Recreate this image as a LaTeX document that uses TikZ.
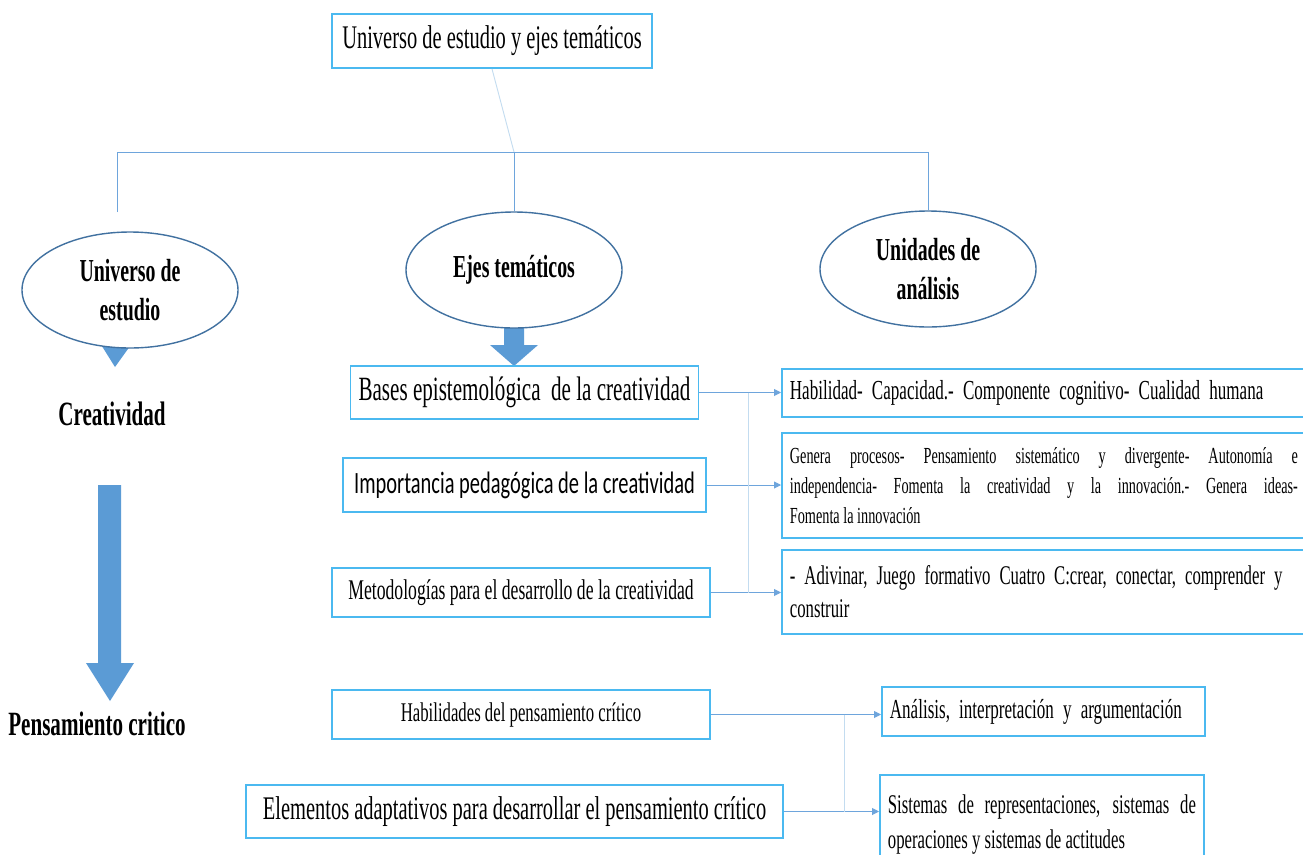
\documentclass[tikz,border=0pt]{standalone}
\usepackage{fontspec}
\setmainfont{Liberation Serif}[FakeStretch=0.62]
\newfontfamily\calibfont{Carlito}[FakeStretch=0.66]
\definecolor{boxblue}{RGB}{75,185,240}
\definecolor{ovalblue}{RGB}{65,113,160}
\definecolor{arrowblue}{RGB}{91,155,213}
\definecolor{linkblue}{RGB}{110,165,220}
\definecolor{faintblue}{RGB}{195,220,240}
\usetikzlibrary{shapes,arrows.meta,positioning,calc}
\newcommand\fs[2]{\fontsize{#1}{#2}\selectfont}

\begin{document}
\begin{tikzpicture}[
    x=1pt, y=-1pt,
    textbox/.style={rectangle, draw=boxblue, line width=1.8pt, fill=white, inner sep=8pt, align=center},
    oval/.style={ellipse, draw=ovalblue, line width=1.4pt, fill=white, minimum width=216pt, minimum height=116pt, align=center, font=\fs{32}{39}\bfseries},
    link/.style={draw=linkblue, line width=0.9pt},
    faint/.style={draw=faintblue, line width=0.9pt},
    arrow/.style={link, -{Triangle[length=7pt, width=7pt]}},
    blockarrow/.style={fill=arrowblue}
]
\useasboundingbox (0,0) rectangle (1303,854);
\clip (0,0) rectangle (1303,854);
\fill[white] (0,0) rectangle (1303,854);

% top level
\node[textbox, minimum width=320pt, minimum height=54pt, font=\fs{33}{38}] (top) at (492,41) {Universo de estudio y ejes temáticos};
\coordinate (hub) at (514,152);
\coordinate (ueend) at (117,212);

% block arrows (drawn under the ovals)
\fill[blockarrow] (95,335) -- (138,335) -- (115,367) -- cycle;
\fill[blockarrow] (504,320) -- (524,320) -- (524,345) -- (538,345) -- (514,366) -- (490,345) -- (504,345) -- cycle;
\fill[blockarrow] (98,485) -- (121,485) -- (121,663) -- (134,663) -- (110,701) -- (86,663) -- (98,663) -- cycle;

\node[oval] (ue) at (130,290) {Universo de\\estudio};
\node[oval] (ejes) at (514,270) {Ejes temáticos};
\node[oval] (unid) at (928,269) {Unidades de\\análisis};

\draw[faint] (top.south) -- (hub);
\draw[link] (ueend) |- (hub) -| (ejes.north);
\draw[link] (hub) -| (unid.north);

\node[font=\fs{34}{40}\bfseries] (crea) at (112,414) {Creatividad};
\node[font=\fs{34}{40}\bfseries] (pens) at (97,724) {Pensamiento critico};

% creatividad
\node[textbox, minimum width=345pt, minimum height=53pt, font=\fs{34}{40}] (bases) at (524.5,392.5) {Bases epistemológica\ \ de la creatividad};
\node[textbox, minimum width=363pt, minimum height=54pt, font=\calibfont\fs{31}{36}] (impo) at (524.5,485) {Importancia pedagógica de la creatividad};
\node[textbox, minimum width=378pt, minimum height=49pt, font=\fs{28.5}{32}] (meto) at (521,592.5) {Metodologías\ para el desarrollo\ de la creatividad};

\node[textbox, anchor=west, minimum height=48pt, text width=544pt, align=left, font=\fs{27.5}{34}] (habi) at (781,393) {Habilidad- Capacidad.- Componente cognitivo- Cualidad humana};
\node[textbox, anchor=west, minimum height=105pt, text width=508pt, align=justify, font=\fs{23}{30}] (gene) at (781,485.5) {Genera procesos- Pensamiento sistemático y divergente- Autonomía e\linebreak independencia- Fomenta la creatividad y la innovación.- Genera ideas-\linebreak Fomenta la innovación};
\node[textbox, anchor=west, minimum height=84pt, text width=530pt, align=left, font=\fs{27}{33}] (adiv) at (781,592) {- Adivinar, Juego formativo Cuatro C:crear, conectar, comprender y\\construir};

\coordinate (jx) at (748,0);
\draw[arrow] (bases.east) -- (bases.east -| habi.west);
\draw[arrow] (impo.east) -- (impo.east -| gene.west);
\draw[arrow] (meto.east) -- (meto.east -| adiv.west);
\draw[faint] (bases.east -| jx) -- (meto.east -| jx);

% pensamiento critico
\node[textbox, minimum width=378pt, minimum height=49pt, font=\fs{27}{30}] (hpc) at (521,714.5) {Habilidades\ del pensamiento\ crítico};
\node[textbox, minimum width=537pt, minimum height=53pt, font=\fs{33}{38}] (elem) at (514.5,811.5) {Elementos adaptativos para desarrollar el pensamiento crítico};

\node[textbox, anchor=west, minimum height=49pt, text width=307pt, align=left, font=\fs{27.5}{32}] (anal) at (881,711.5) {Análisis,\ interpretación\ y argumentación};
\node[textbox, anchor=north west, minimum height=100pt, text width=308pt, align=justify, font=\fs{27}{35}] (sist) at (879,774) {Sistemas de representaciones, sistemas de\linebreak operaciones y sistemas de actitudes};

\coordinate (jy) at (844,0);
\draw[arrow] (hpc.east) -- (hpc.east -| anal.west);
\draw[arrow] (elem.east) -- (elem.east -| sist.west);
\draw[faint] (hpc.east -| jy) -- (elem.east -| jy);

\end{tikzpicture}
\end{document}
